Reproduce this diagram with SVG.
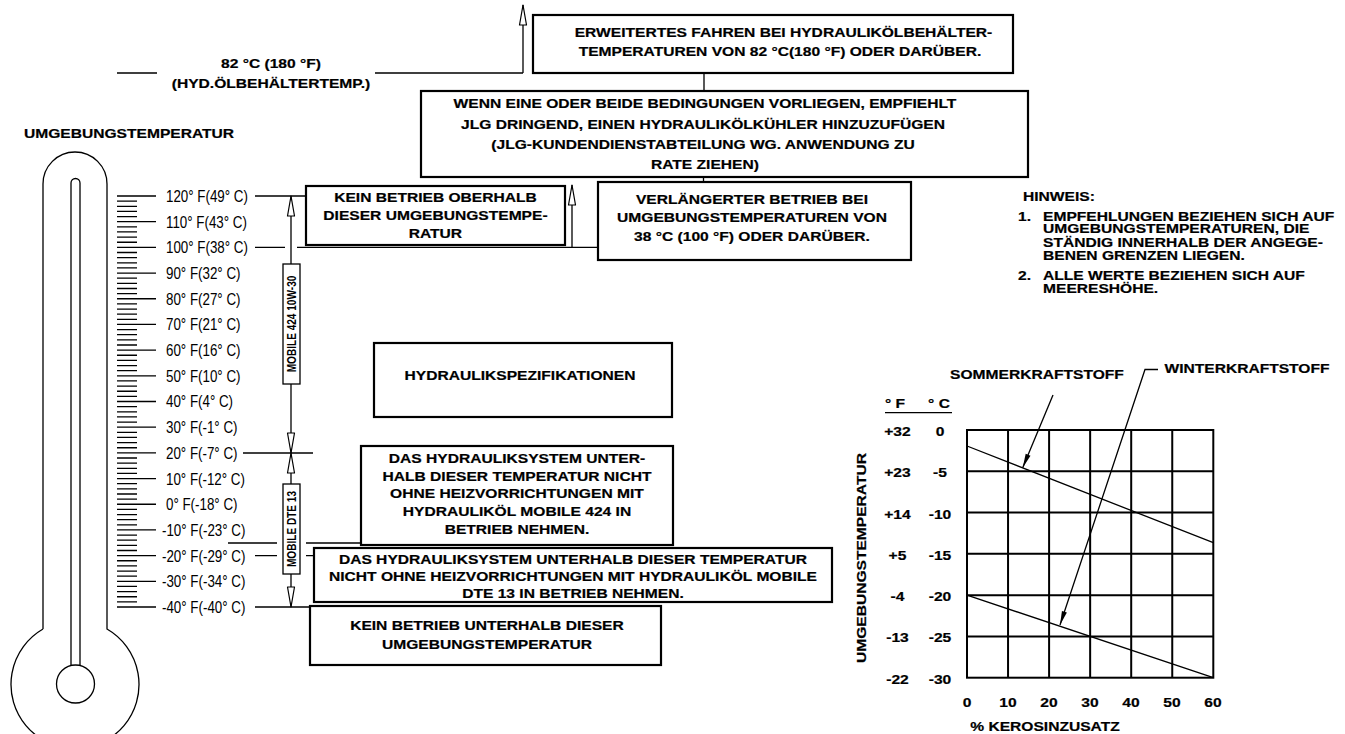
<svg xmlns="http://www.w3.org/2000/svg" width="1345" height="734" viewBox="0 0 1345 734">
<defs>
<style>
.bx{fill:#fff;stroke:#000;stroke-width:2.2}
.sb{fill:#fff;stroke:#000;stroke-width:1.3}
.ln{fill:none;stroke:#000;stroke-width:1.3}
.gr{fill:none;stroke:#000;stroke-width:2}
.t{font-family:"Liberation Sans",Arial,Helvetica,sans-serif;font-weight:bold;font-size:13px;text-anchor:middle;fill:#000;stroke:#000;stroke-width:0.2;transform-box:fill-box;transform-origin:50% 50%;transform:scaleX(1.2)}
.tl{font-family:"Liberation Sans",Arial,Helvetica,sans-serif;font-weight:bold;font-size:13px;text-anchor:start;fill:#000;stroke:#000;stroke-width:0.2;transform-box:fill-box;transform-origin:0% 50%;transform:scaleX(1.2)}
.s{font-family:"Liberation Sans",Arial,Helvetica,sans-serif;font-size:16.5px;fill:#000;transform-box:fill-box;transform-origin:0% 50%;transform:scaleX(0.81)}
.m{font-family:"Liberation Sans",Arial,Helvetica,sans-serif;font-weight:bold;font-size:12px;text-anchor:middle;fill:#000;transform-box:fill-box;transform-origin:50% 50%;transform:scaleX(0.84)}
</style>
<marker id="oa" viewBox="-22 -5 23 10" refX="0" refY="0" markerWidth="23" markerHeight="10" markerUnits="userSpaceOnUse" orient="auto"><path d="M0,0 L-20,-3.5 L-20,3.5 Z" fill="#fff" stroke="#000" stroke-width="1.2" stroke-linejoin="round"/></marker>
<marker id="fa" viewBox="-15 -4 16 8" refX="0" refY="0" markerWidth="16" markerHeight="8" markerUnits="userSpaceOnUse" orient="auto"><path d="M0,0 L-14,-2.6 L-14,2.6 Z" fill="#000"/></marker>
</defs>
<rect x="0" y="0" width="1345" height="734" fill="#fff"/>

<g id="thermometer">
<path class="ln" d="M43,629 V184 A32,32 0 0 1 107,184 V629 A64,64 0 1 1 43,629"/>
<path class="ln" d="M71,666 V183 A4.5,4.5 0 0 1 80,183 V666"/>
<circle class="ln" cx="75.5" cy="684" r="19"/>
</g>

<g id="scale">
<path class="ln" stroke-width="1.2" d="M117,196 h39 m-39,25.6875 h39 m-39,25.6875 h39 m-39,25.6875 h39 m-39,25.6875 h39 m-39,25.6875 h39 m-39,25.6875 h39 m-39,25.6875 h39 m-39,25.6875 h39 m-39,25.6875 h39 m-39,25.6875 h39 m-39,25.6875 h39 m-39,25.6875 h39 m-39,25.6875 h39 m-39,25.6875 h39 m-39,25.6875 h39 m-39,25.6875 h39"/>
<path class="ln" stroke-width="1.2" d="M117,201.1375 h20 m-20,5.1375 h20 m-20,5.1375 h20 m-20,5.1375 h20 m-20,10.275 h20 m-20,5.1375 h20 m-20,5.1375 h20 m-20,5.1375 h20 m-20,10.275 h20 m-20,5.1375 h20 m-20,5.1375 h20 m-20,5.1375 h20 m-20,10.275 h20 m-20,5.1375 h20 m-20,5.1375 h20 m-20,5.1375 h20 m-20,10.275 h20 m-20,5.1375 h20 m-20,5.1375 h20 m-20,5.1375 h20 m-20,10.275 h20 m-20,5.1375 h20 m-20,5.1375 h20 m-20,5.1375 h20 m-20,10.275 h20 m-20,5.1375 h20 m-20,5.1375 h20 m-20,5.1375 h20 m-20,10.275 h20 m-20,5.1375 h20 m-20,5.1375 h20 m-20,5.1375 h20 m-20,10.275 h20 m-20,5.1375 h20 m-20,5.1375 h20 m-20,5.1375 h20 m-20,10.275 h20 m-20,5.1375 h20 m-20,5.1375 h20 m-20,5.1375 h20 m-20,10.275 h20 m-20,5.1375 h20 m-20,5.1375 h20 m-20,5.1375 h20 m-20,10.275 h20 m-20,5.1375 h20 m-20,5.1375 h20 m-20,5.1375 h20 m-20,10.275 h20 m-20,5.1375 h20 m-20,5.1375 h20 m-20,5.1375 h20 m-20,10.275 h20 m-20,5.1375 h20 m-20,5.1375 h20 m-20,5.1375 h20 m-20,10.275 h20 m-20,5.1375 h20 m-20,5.1375 h20 m-20,5.1375 h20 m-20,10.275 h20 m-20,5.1375 h20 m-20,5.1375 h20 m-20,5.1375 h20"/>
<text class="s" x="166" y="202">120° F(49° C)</text>
<text class="s" x="166" y="227.7">110° F(43° C)</text>
<text class="s" x="166" y="253.4">100° F(38° C)</text>
<text class="s" x="166" y="279.1">90° F(32° C)</text>
<text class="s" x="166" y="304.8">80° F(27° C)</text>
<text class="s" x="166" y="330.4">70° F(21° C)</text>
<text class="s" x="166" y="356.1">60° F(16° C)</text>
<text class="s" x="166" y="381.8">50° F(10° C)</text>
<text class="s" x="166" y="407.5">40° F(4° C)</text>
<text class="s" x="166" y="433.2">30° F(-1° C)</text>
<text class="s" x="166" y="458.9">20° F(-7° C)</text>
<text class="s" x="166" y="484.6">10° F(-12° C)</text>
<text class="s" x="166" y="510.3">0° F(-18° C)</text>
<text class="s" x="162" y="535.9">-10° F(-23° C)</text>
<text class="s" x="162" y="561.6">-20° F(-29° C)</text>
<text class="s" x="162" y="587.3">-30° F(-34° C)</text>
<text class="s" x="162" y="613">-40° F(-40° C)</text>
</g>

<g id="label-umgebung">
<text class="tl" x="24" y="138.5">UMGEBUNGSTEMPERATUR</text>
</g>

<g id="label-82c">
<text class="t" x="271" y="68.5">82 °C (180 °F)</text>
<text class="t" x="271" y="88">(HYD.ÖLBEHÄLTERTEMP.)</text>
</g>

<g id="connectors">
<path class="ln" d="M117,73 H157 M375,73 H523"/>
<path class="ln" d="M523,73 V5" marker-end="url(#oa)"/>
<path class="ln" d="M704,73 V91 M703.5,177 V182"/>
<path class="ln" d="M255,196 H306"/>
<path class="ln" d="M255,247.4 H285 M297,247.4 H598"/>
<path class="ln" d="M572,247.4 V185" marker-end="url(#oa)"/>
<path class="ln" d="M243,453 H313"/>
<path class="ln" d="M228,543 H277 M306,543 H361"/>
<path class="ln" d="M255,555.6 H277 M306,555.6 H314"/>
<path class="ln" d="M255,607 H310"/>
<path class="ln" d="M291,264 V196" marker-end="url(#oa)"/>
<path class="ln" d="M291,384 V453" marker-end="url(#oa)"/>
<path class="ln" d="M291,484 V453" marker-end="url(#oa)"/>
<path class="ln" d="M291,574 V607" marker-end="url(#oa)"/>
</g>

<g id="mobile-424">
<rect class="sb" x="283" y="264" width="17" height="120"/>
<g transform="translate(291.5,324) rotate(-90)"><text class="m" x="0" y="4.3">MOBILE 424 10W-30</text></g>
</g>

<g id="mobile-dte13">
<rect class="sb" x="283" y="484" width="17" height="90"/>
<g transform="translate(291.5,529) rotate(-90)"><text class="m" x="0" y="4.3">MOBILE DTE 13</text></g>
</g>

<g id="box-erweitertes">
<rect class="bx" x="533" y="15" width="480" height="58"/>
<text class="t" x="783.5" y="37">ERWEITERTES FAHREN BEI HYDRAULIKÖLBEHÄLTER-</text>
<text class="t" x="780" y="56.5">TEMPERATUREN VON 82 °C(180 °F) ODER DARÜBER.</text>
</g>

<g id="box-wenn">
<rect class="bx" x="421" y="91" width="607" height="86"/>
<text class="t" x="705" y="108.5">WENN EINE ODER BEIDE BEDINGUNGEN VORLIEGEN, EMPFIEHLT</text>
<text class="t" x="703" y="129">JLG DRINGEND, EINEN HYDRAULIKÖLKÜHLER HINZUZUFÜGEN</text>
<text class="t" x="703" y="149">(JLG-KUNDENDIENSTABTEILUNG WG. ANWENDUNG ZU</text>
<text class="t" x="705" y="169.5">RATE ZIEHEN)</text>
</g>

<g id="box-kein-oberhalb">
<rect class="bx" x="306" y="186" width="259" height="59"/>
<text class="t" x="435.5" y="202.3">KEIN BETRIEB OBERHALB</text>
<text class="t" x="435.5" y="220.3">DIESER UMGEBUNGSTEMPE-</text>
<text class="t" x="435.5" y="238.3">RATUR</text>
</g>

<g id="box-verlaengerter">
<rect class="bx" x="598" y="182" width="313" height="78"/>
<text class="t" x="752" y="204.3">VERLÄNGERTER BETRIEB BEI</text>
<text class="t" x="752" y="222.3">UMGEBUNGSTEMPERATUREN VON</text>
<text class="t" x="752" y="240.7">38 °C (100 °F) ODER DARÜBER.</text>
</g>

<g id="box-hydraulikspezifikationen">
<rect class="bx" x="374" y="343" width="298" height="74"/>
<text class="t" x="520" y="380">HYDRAULIKSPEZIFIKATIONEN</text>
</g>

<g id="box-mobile424-hinweis">
<rect class="bx" x="361" y="446" width="312" height="99"/>
<text class="t" x="517" y="463.3">DAS HYDRAULIKSYSTEM UNTER-</text>
<text class="t" x="517" y="481">HALB DIESER TEMPERATUR NICHT</text>
<text class="t" x="517" y="498.3">OHNE HEIZVORRICHTUNGEN MIT</text>
<text class="t" x="517" y="516">HYDRAULIKÖL MOBILE 424 IN</text>
<text class="t" x="517" y="534">BETRIEB NEHMEN.</text>
</g>

<g id="box-dte13-hinweis">
<rect class="bx" x="314" y="548" width="518" height="54"/>
<text class="t" x="573" y="564">DAS HYDRAULIKSYSTEM UNTERHALB DIESER TEMPERATUR</text>
<text class="t" x="573" y="581">NICHT OHNE HEIZVORRICHTUNGEN MIT HYDRAULIKÖL MOBILE</text>
<text class="t" x="573" y="598">DTE 13 IN BETRIEB NEHMEN.</text>
</g>

<g id="box-kein-unterhalb">
<rect class="bx" x="310" y="606" width="351" height="59"/>
<text class="t" x="487" y="630">KEIN BETRIEB UNTERHALB DIESER</text>
<text class="t" x="487" y="649">UMGEBUNGSTEMPERATUR</text>
</g>

<g id="notes">
<text class="tl" x="1023" y="200.7">HINWEIS:</text>
<text class="tl" x="1018" y="220.7">1.</text>
<text class="tl" x="1043" y="220.7">EMPFEHLUNGEN BEZIEHEN SICH AUF</text>
<text class="tl" x="1043" y="233.5">UMGEBUNGSTEMPERATUREN, DIE</text>
<text class="tl" x="1043" y="246.7">STÄNDIG INNERHALB DER ANGEGE-</text>
<text class="tl" x="1043" y="260">BENEN GRENZEN LIEGEN.</text>
<text class="tl" x="1018" y="280.5">2.</text>
<text class="tl" x="1043" y="280.5">ALLE WERTE BEZIEHEN SICH AUF</text>
<text class="tl" x="1043" y="293.5">MEERESHÖHE.</text>
</g>

<g id="chart">
<rect class="gr" x="967" y="430" width="246.3" height="247.7"/>
<path class="gr" d="M1008.05,430 V677.7 M1049.1,430 V677.7 M1090.15,430 V677.7 M1131.2,430 V677.7 M1172.25,430 V677.7 M967,471.28 H1213.3 M967,512.57 H1213.3 M967,553.85 H1213.3 M967,595.13 H1213.3 M967,636.42 H1213.3"/>
<path class="ln" stroke-width="1.5" d="M967,446 L1213.3,542.7 M967,595.1 L1213.3,677.7"/>
<path class="ln" d="M1053,395 L1022.7,467.7" marker-end="url(#fa)"/>
<path class="ln" d="M1158,369.5 H1145 L1060,625" marker-end="url(#fa)"/>
<text class="t" x="1037" y="379">SOMMERKRAFTSTOFF</text>
<text class="t" x="1247" y="373">WINTERKRAFTSTOFF</text>
<text class="t" x="895" y="408">° F</text>
<text class="t" x="939" y="408">° C</text>
<path class="ln" stroke-width="1.5" d="M885,412.7 H952"/>
<text class="t" x="897.5" y="436.5">+32</text><text class="t" x="940" y="436.5">0</text>
<text class="t" x="897.5" y="477.5">+23</text><text class="t" x="940" y="477.5">-5</text>
<text class="t" x="897.5" y="519">+14</text><text class="t" x="940" y="519">-10</text>
<text class="t" x="897.5" y="560">+5</text><text class="t" x="940" y="560">-15</text>
<text class="t" x="897.5" y="601.5">-4</text><text class="t" x="940" y="601.5">-20</text>
<text class="t" x="897.5" y="642.5">-13</text><text class="t" x="940" y="642.5">-25</text>
<text class="t" x="897.5" y="684">-22</text><text class="t" x="940" y="684">-30</text>
<text class="t" x="967" y="707">0</text>
<text class="t" x="1008" y="707">10</text>
<text class="t" x="1049" y="707">20</text>
<text class="t" x="1090" y="707">30</text>
<text class="t" x="1131" y="707">40</text>
<text class="t" x="1172" y="707">50</text>
<text class="t" x="1213" y="707">60</text>
<text class="t" x="1045" y="731">% KEROSINZUSATZ</text>
<g transform="translate(861,558) rotate(-90)"><text class="t" x="0" y="4.6">UMGEBUNGSTEMPERATUR</text></g>
</g>
</svg>
